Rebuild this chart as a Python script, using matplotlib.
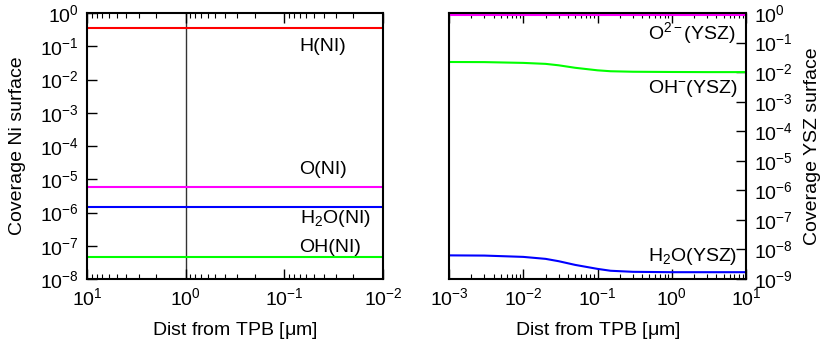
import matplotlib
matplotlib.use('Agg')
import matplotlib.pyplot as plt
from matplotlib.ticker import LogLocator, NullFormatter, FixedLocator

plt.rcParams['font.family'] = ['Liberation Sans', 'DejaVu Sans']
plt.rcParams['mathtext.fontset'] = 'custom'
plt.rcParams['mathtext.rm'] = 'Liberation Sans'
plt.rcParams['mathtext.it'] = 'Liberation Sans:italic'
plt.rcParams['font.size'] = 14

# Ni surface (left panel), constant coverages
ni_x = [10, 0.01]
ni_h = [0.35, 0.35]
ni_o = [5.9e-6, 5.9e-6]
ni_h2o = [1.5e-6, 1.5e-6]
ni_oh = [4.7e-8, 4.7e-8]

# YSZ surface (right panel)
ysz_x = [1e-3, 3e-3, 1e-2, 2e-2, 3e-2, 5e-2, 0.1, 0.15, 0.3, 1, 3, 10]
ysz_o2 = [0.87, 0.87, 0.87, 0.87, 0.87, 0.87, 0.87, 0.87, 0.87, 0.87, 0.87, 0.87]
ysz_oh = [0.022, 0.0218, 0.0205, 0.019, 0.017, 0.014, 0.0115, 0.0107, 0.0103, 0.0101, 0.010, 0.010]
ysz_h2o = [6.3e-9, 6.2e-9, 5.6e-9, 4.8e-9, 4.0e-9, 3.0e-9, 2.2e-9, 1.9e-9, 1.75e-9, 1.7e-9, 1.7e-9, 1.7e-9]

RED = '#ff0000'
MAG = '#ff00ff'
BLUE = '#0000ff'
GREEN = '#00ff00'

def pow_label(v, pos=None):
    import math
    e = int(round(math.log10(v)))
    return r'$\mathregular{10^{%d}}$' % e

fig = plt.figure(figsize=(8.25, 3.47), dpi=100)
ax1 = fig.add_axes([87 / 825, 68 / 347, 296 / 825, 266 / 347])
ax2 = fig.add_axes([449 / 825, 68 / 347, 297 / 825, 266 / 347])

# ---- left panel ----
ax1.plot(ni_x, ni_h, color=RED, lw=1.5)
ax1.plot(ni_x, ni_o, color=MAG, lw=1.5)
ax1.plot(ni_x, ni_h2o, color=BLUE, lw=1.5)
ax1.plot(ni_x, ni_oh, color=GREEN, lw=1.5)
ax1.axvline(1.0, color='#333333', lw=1.0, zorder=0)
ax1.set_xscale('log')
ax1.set_yscale('log')
ax1.set_xlim(10, 0.01)
ax1.set_ylim(1e-8, 1)
ax1.set_xticks([10, 1, 0.1, 0.01])
ax1.set_xticklabels([pow_label(v) for v in [10, 1, 0.1, 0.01]])
ax1.xaxis.set_minor_locator(LogLocator(base=10, subs=range(2, 10)))
ax1.xaxis.set_minor_formatter(NullFormatter())
yt1 = [10.0 ** e for e in range(-8, 1)]
ax1.set_yticks(yt1)
ax1.set_yticklabels([pow_label(v) for v in yt1])
ax1.yaxis.set_minor_locator(LogLocator(base=10, subs=(2, 5, 7)))
ax1.yaxis.set_minor_formatter(NullFormatter())
ax1.tick_params(which='both', direction='in', top=True, right=False)
ax1.tick_params(which='major', length=7, width=1, pad=6)
ax1.tick_params(which='minor', length=3.5, width=0.8)
ax1.set_xlabel(r'Dist from TPB [$\mathregular{\mu}$m]', labelpad=8)
ax1.set_ylabel('Coverage Ni surface', labelpad=10)

ax1.text(0.07, 0.095, 'H(NI)', ha='left', va='center')
ax1.text(0.07, 1.9e-5, 'O(NI)', ha='left', va='center')
ax1.text(0.07, 6.8e-7, r'H$\mathregular{_2}$O(NI)', ha='left', va='center')
ax1.text(0.07, 9e-8, 'OH(NI)', ha='left', va='center')

# ---- right panel ----
ax2.plot(ysz_x, ysz_o2, color=MAG, lw=1.5)
ax2.plot(ysz_x, ysz_oh, color=GREEN, lw=1.5)
ax2.plot(ysz_x, ysz_h2o, color=BLUE, lw=1.5)
ax2.set_xscale('log')
ax2.set_yscale('log')
ax2.set_xlim(1e-3, 10)
ax2.set_ylim(1e-9, 1)
xt2 = [1e-3, 1e-2, 1e-1, 1, 10]
ax2.set_xticks(xt2)
ax2.set_xticklabels([pow_label(v) for v in xt2])
ax2.xaxis.set_minor_locator(LogLocator(base=10, subs=range(2, 10)))
ax2.xaxis.set_minor_formatter(NullFormatter())
yt2 = [10.0 ** e for e in range(-9, 1)]
ax2.yaxis.tick_right()
ax2.yaxis.set_label_position('right')
ax2.set_yticks(yt2)
ax2.set_yticklabels([pow_label(v) for v in yt2])
ax2.yaxis.set_minor_locator(FixedLocator([]))
ax2.tick_params(which='both', direction='in', top=True, left=False, right=True)
ax2.tick_params(which='major', length=7, width=1, pad=6)
ax2.tick_params(which='minor', length=3.5, width=0.8)
ax2.set_xlabel(r'Dist from TPB [$\mathregular{\mu}$m]', labelpad=8)
ax2.set_ylabel('Coverage YSZ surface', rotation=90, labelpad=8)

ax2.text(0.48, 0.21, r'O$\mathregular{^{2-}}$(YSZ)', ha='left', va='center')
ax2.text(0.48, 2.9e-3, r'OH$\mathregular{^{-}}$(YSZ)', ha='left', va='center')
ax2.text(0.48, 6e-9, r'H$\mathregular{_2}$O(YSZ)', ha='left', va='center')

for ax in (ax1, ax2):
    for s in ax.spines.values():
        s.set_linewidth(1.5)

fig.savefig('out.png', dpi=100)
